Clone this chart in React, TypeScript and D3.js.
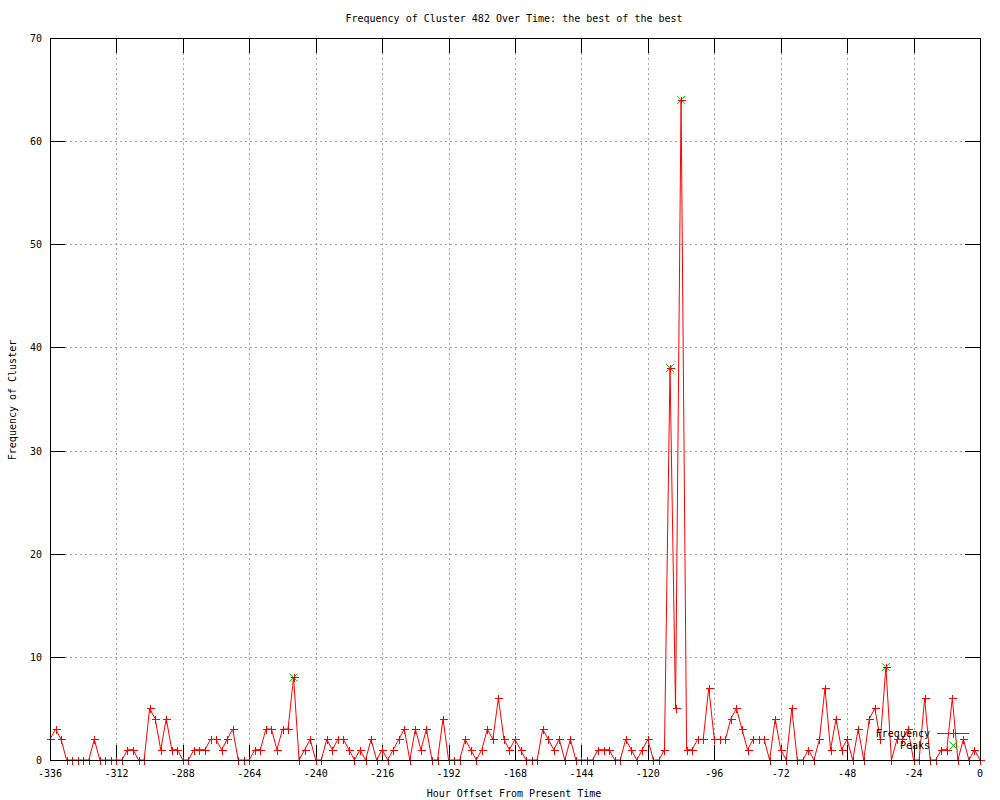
import * as d3 from 'd3';

// hour offsets, every 2 hours from -336 to 0
const hours: number[] = d3.range(-336, 1, 2);

// frequency, one per hour offset
const counts: number[] = [
  2, 3, 2, 0, 0, 0, 0, 0, 2, 0, 0, 0, 0, 0, 1, 1, 0, 0, 5, 4,
  1, 4, 1, 1, 0, 0, 1, 1, 1, 2, 2, 1, 2, 3, 0, 0, 0, 1, 1, 3,
  3, 1, 3, 3, 8, 0, 1, 2, 0, 0, 2, 1, 2, 2, 1, 0, 1, 0, 2, 0,
  1, 0, 1, 2, 3, 0, 3, 1, 3, 0, 0, 4, 0, 0, 0, 2, 1, 0, 1, 3,
  2, 6, 2, 1, 2, 1, 0, 0, 0, 3, 2, 1, 2, 0, 2, 0, 0, 0, 0, 1,
  1, 1, 0, 0, 2, 1, 0, 1, 2, 0, 0, 1, 38, 5, 64, 1, 1, 2, 2, 7,
  2, 2, 2, 4, 5, 3, 1, 2, 2, 2, 0, 4, 1, 0, 5, 0, 0, 1, 0, 2,
  7, 1, 4, 1, 2, 0, 3, 0, 4, 5, 2, 9, 0, 2, 2, 3, 0, 0, 6, 0,
  0, 1, 1, 6, 0, 2, 0, 1, 0,
];

// detected peaks
const peakHours: number[] = [-248, -112, -108, -34];
const peakValues: number[] = [8, 38, 64, 9];

const xTicks: number[] = d3.range(-336, 1, 24);
const yTicks: number[] = d3.range(0, 71, 10);

const title = 'Frequency of Cluster 482 Over Time: the best of the best';
const xLabel = 'Hour Offset From Present Time';
const yLabel = 'Frequency of Cluster';
const legendLabels = ['Frequency', 'Peaks'];

const font = '"DejaVu Sans Mono", "Liberation Mono", monospace';
const red = '#ff0000';
const green = '#00c000';

export default function App() {
  const W = 1000;
  const H = 800;
  const margin = { top: 38, right: 20, bottom: 40, left: 50 };
  const innerW = W - margin.left - margin.right;
  const innerH = H - margin.top - margin.bottom;
  const left = margin.left;
  const right = W - margin.right;
  const top = margin.top;
  const bottom = H - margin.bottom;

  const x = d3.scaleLinear().domain([-336, 0]).range([left, left + innerW]);
  const y = d3.scaleLinear().domain([0, 70]).range([top + innerH, top]);

  const pts = hours.map((h, i) => ({ h, v: counts[i] }));
  const line = d3.line<{ h: number; v: number }>()
    .x(d => x(d.h))
    .y(d => y(d.v));

  const tickLen = 15;
  const plus = (cx: number, cy: number, s = 4) =>
    `M${cx - s},${cy}H${cx + s}M${cx},${cy - s}V${cy + s}`;
  const cross = (cx: number, cy: number, s = 4) =>
    `M${cx - s},${cy - s}L${cx + s},${cy + s}M${cx - s},${cy + s}L${cx + s},${cy - s}`;

  const legX = 953;
  const legY1 = 733;
  const legY2 = 745;

  return (
    <svg
      width={W}
      height={H}
      style={{ position: 'absolute', left: 0, top: 0, background: '#fff' }}
      fontFamily={font}
      fontSize={10}
    >
      <rect x={0} y={0} width={W} height={H} fill="#fff" />

      {/* grid */}
      <g stroke="#a0a0a0" strokeWidth={1} strokeDasharray="2,3" shapeRendering="crispEdges">
        {xTicks.filter(t => t !== -336 && t !== 0).map(t => (
          <line key={'gx' + t} x1={Math.round(x(t)) + 0.5} x2={Math.round(x(t)) + 0.5} y1={bottom} y2={top} />
        ))}
        {yTicks.filter(t => t !== 0 && t !== 70).map(t => (
          <line key={'gy' + t} x1={left} x2={right} y1={Math.round(y(t)) + 0.5} y2={Math.round(y(t)) + 0.5} />
        ))}
      </g>

      {/* ticks, mirrored on all sides */}
      <g stroke="#000" strokeWidth={1} shapeRendering="crispEdges">
        {xTicks.map(t => {
          const px = Math.round(x(t)) + 0.5;
          return (
            <g key={'tx' + t}>
              <line x1={px} x2={px} y1={bottom} y2={bottom - tickLen} />
              <line x1={px} x2={px} y1={top} y2={top + tickLen} />
            </g>
          );
        })}
        {yTicks.map(t => {
          const py = Math.round(y(t)) + 0.5;
          return (
            <g key={'ty' + t}>
              <line x1={left} x2={left + tickLen} y1={py} y2={py} />
              <line x1={right} x2={right - tickLen} y1={py} y2={py} />
            </g>
          );
        })}
      </g>

      {/* tick labels */}
      <g fill="#000">
        {xTicks.map(t => (
          <text key={'lx' + t} x={x(t)} y={bottom + 17} textAnchor="middle">{t}</text>
        ))}
        {yTicks.map(t => (
          <text key={'ly' + t} x={left - 8} y={y(t) + 4} textAnchor="end">{t}</text>
        ))}
      </g>

      {/* peaks underneath */}
      <g stroke={green} strokeWidth={1} fill="none">
        {peakHours.map((h, i) => (
          <path key={'pk' + h} d={cross(x(h), y(peakValues[i]))} />
        ))}
      </g>

      {/* frequency line + points */}
      <path d={line(pts) || ''} fill="none" stroke={red} strokeWidth={1} />
      <g stroke={red} strokeWidth={1} fill="none" shapeRendering="crispEdges">
        {pts.map(d => (
          <path key={'p' + d.h} d={plus(Math.round(x(d.h)) + 0.5, Math.round(y(d.v)) + 0.5)} />
        ))}
      </g>

      {/* frame */}
      <rect x={left + 0.5} y={top + 0.5} width={innerW} height={innerH} fill="none" stroke="#000" shapeRendering="crispEdges" />

      {/* legend */}
      <g>
        <text x={930} y={legY1 + 4} textAnchor="end" fill="#000">{legendLabels[0]}</text>
        <rect x={937} y={legY1} width={32} height={1} fill={red} />
        <rect x={legX} y={legY1 - 4} width={1} height={9} fill={red} />
        <text x={930} y={legY2 + 4} textAnchor="end" fill="#000">{legendLabels[1]}</text>
        <path d={cross(legX + 0.5, legY2 + 0.5)} stroke={green} strokeWidth={1} fill="none" />
      </g>

      {/* titles */}
      <text x={514} y={22} textAnchor="middle">{title}</text>
      <text x={514} y={797} textAnchor="middle">{xLabel}</text>
      <text transform="translate(16,400) rotate(-90)" textAnchor="middle">{yLabel}</text>
    </svg>
  );
}
